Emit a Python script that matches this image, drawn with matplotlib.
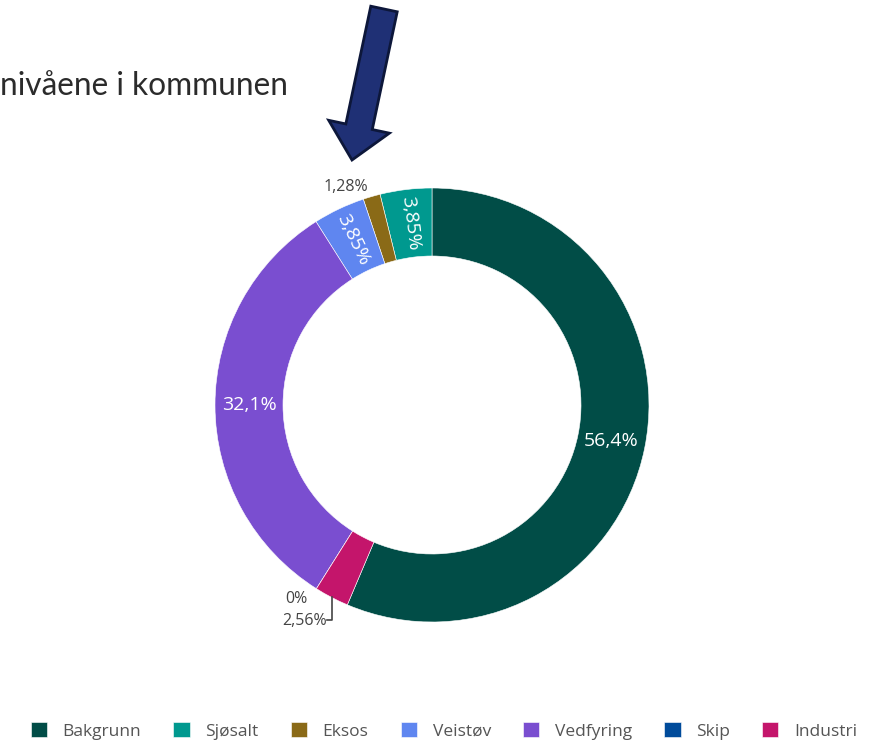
import matplotlib.pyplot as plt
import numpy as np
from matplotlib.patches import FancyArrow

# Andel av PM-nivå per kilde (prosent)
kilder = ["Bakgrunn", "Sjøsalt", "Eksos", "Veistøv", "Vedfyring", "Skip", "Industri"]
andel = [56.4, 3.85, 1.28, 3.85, 32.1, 0.0, 2.56]
etiketter = ["56,4%", "3,85%", "1,28%", "3,85%", "32,1%", "0%", "2,56%"]
farger = ["#014d47", "#00998f", "#8a6a17", "#5f86f0", "#7a4ed0", "#004b9b", "#c4156b"]

W, H = 879, 744
fig = plt.figure(figsize=(W / 100, H / 100), dpi=100)
ax = fig.add_axes([0, 0, 1, 1])

cx, cy = 432, H - 405
R, ring = 217, 68

# Bakgrunn starts at 12 o'clock and runs clockwise; the rest follow counter-clockwise
start = 90 - 360 * andel[0] / sum(andel)
wedges, _ = ax.pie(andel, colors=farger, startangle=start, counterclock=True,
                   center=(cx, cy), radius=R,
                   wedgeprops=dict(width=ring, edgecolor="white", linewidth=0.4))

ax.set_xlim(0, W)
ax.set_ylim(0, H)
ax.set_aspect("equal")
ax.axis("off")

inne = dict(color="white", fontsize=14, ha="center", va="center", family="Open Sans")
ute = dict(color="#444444", fontsize=11.5, va="center", family="Open Sans")

r_mid = R - ring / 2
for i, w in enumerate(wedges):
    mid = np.deg2rad((w.theta1 + w.theta2) / 2)
    lab = etiketter[i]
    if kilder[i] in ("Bakgrunn", "Vedfyring"):
        ax.text(cx + r_mid * np.cos(mid), cy + r_mid * np.sin(mid), lab, **inne)
    elif kilder[i] in ("Sjøsalt", "Veistøv"):
        rot = np.rad2deg(mid) - 180
        ax.text(cx + r_mid * np.cos(mid), cy + r_mid * np.sin(mid), lab,
                rotation=rot, rotation_mode="anchor", **inne)
    elif kilder[i] == "Eksos":
        x0 = cx + (R + 10) * np.cos(mid)
        y0 = cy + (R + 10) * np.sin(mid)
        ax.text(x0 - 23, y0, lab, ha="center", **ute)
    elif kilder[i] == "Skip":
        x0 = cx + R * np.cos(mid)
        y0 = cy + R * np.sin(mid)
        ax.text(x0 - 20, y0 - 10, lab, ha="center", **ute)
    elif kilder[i] == "Industri":
        x0 = cx + R * np.cos(mid)
        y0 = cy + R * np.sin(mid)
        ax.plot([x0, x0, x0 - 5], [y0, y0 - 23, y0 - 23], color="#444444", lw=1.2)
        ax.text(x0 - 5, y0 - 24, lab, ha="right", **ute)

# Tittel (delvis utenfor kanten)
fig.text(0.0, 1 - 95 / H, "nivåene i kommunen", fontsize=22.8, color="#2b2b2b",
         family="Lato", ha="left", va="baseline")

# Pil som peker på Eksos-andelen
tx, ty = 384, H - 9
ex, ey = 352, H - 160
ax.add_patch(FancyArrow(tx, ty, ex - tx, ey - ty, width=27, head_width=62, head_length=34,
                        length_includes_head=True, facecolor="#1f3075",
                        edgecolor="#0d173a", linewidth=2))

fig.legend(wedges, kilder, loc="center", bbox_to_anchor=(0.505, 1 - 731 / H), ncol=7,
           frameon=False, handlelength=0.95, handleheight=0.95, handletextpad=0.9,
           columnspacing=1.84, prop={"family": "Open Sans", "size": 12.5},
           labelcolor="#555555")

fig.savefig("out.png", dpi=100)
